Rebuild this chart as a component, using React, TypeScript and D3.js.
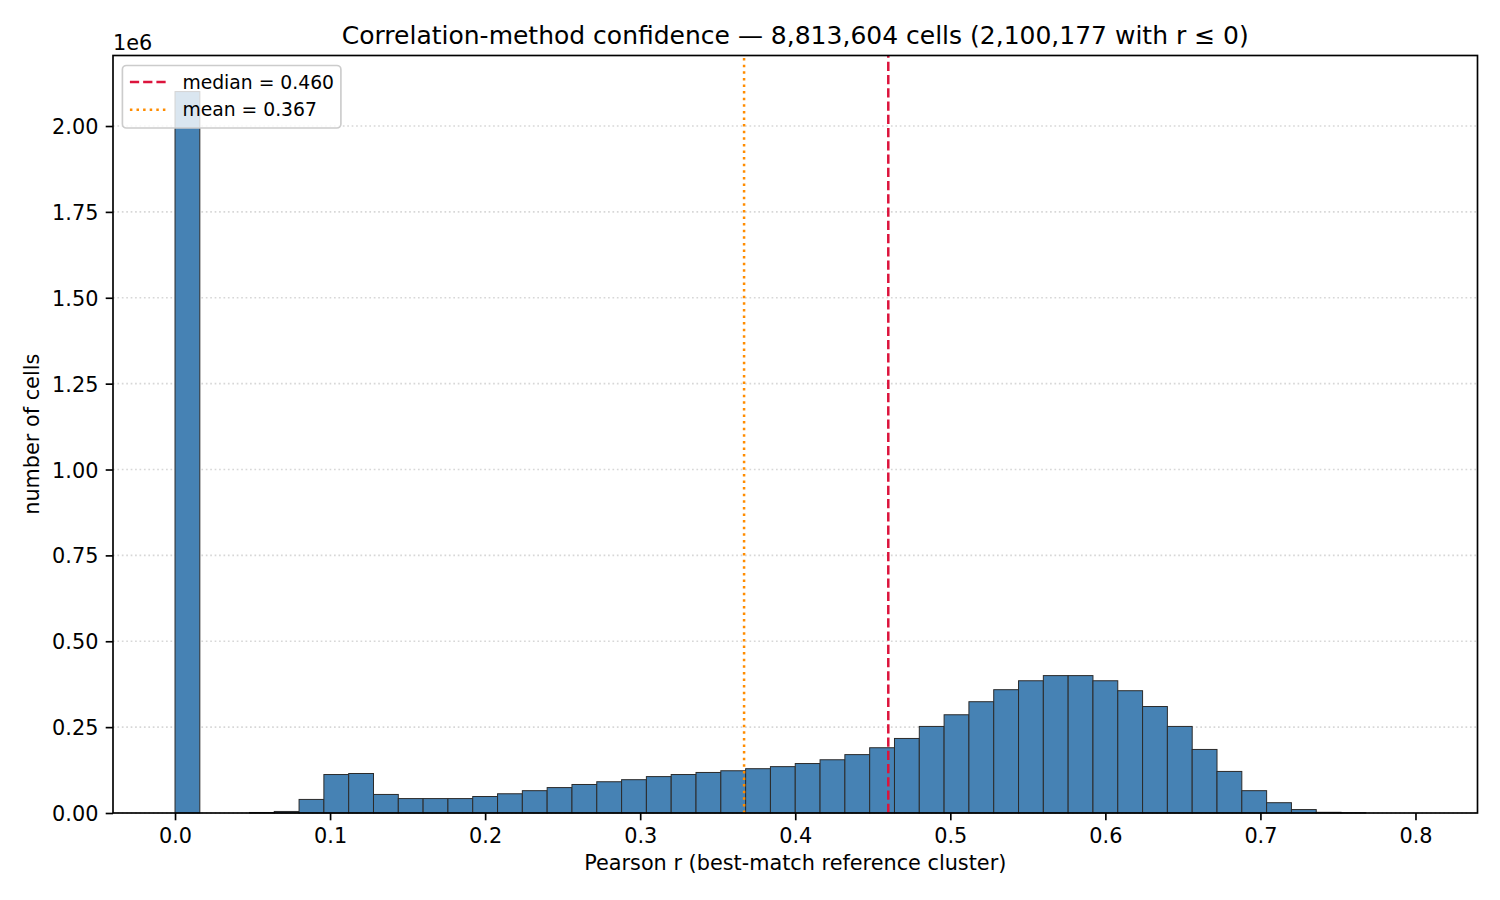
import { useRef, useEffect } from "react";
import * as d3 from "d3";

// histogram counts, 50 bins of width 0.016 starting at r = 0
const BIN_START = 0;
const BIN_WIDTH = 0.016;
const counts = [
  2100300, 0, 0, 1500, 4500, 39500, 112000, 115000, 54000, 42000,
  42000, 42000, 48000, 56000, 65000, 74000, 83000, 91000, 97000, 106000,
  112000, 118000, 123000, 129000, 135000, 144000, 155000, 170000, 190000, 217000,
  252000, 286000, 324000, 359000, 385000, 400000, 400000, 385000, 356000, 310000,
  252000, 185000, 121000, 65000, 30000, 10000, 2000, 800, 0, 0,
];

const MEDIAN = 0.46;
const MEAN = 0.367;

const xTicks = [0, 0.1, 0.2, 0.3, 0.4, 0.5, 0.6, 0.7, 0.8];
const yTicks = [0, 0.25e6, 0.5e6, 0.75e6, 1e6, 1.25e6, 1.5e6, 1.75e6, 2e6];

const TITLE = "Correlation-method confidence \u2014 8,813,604 cells (2,100,177 with r \u2264 0)";
const X_LABEL = "Pearson r (best-match reference cluster)";
const Y_LABEL = "number of cells";

const legendItems = [
  { label: "median = 0.460", color: "#dc143c", dash: "9.25,4" },
  { label: "mean = 0.367", color: "#ff8c00", dash: "2.5,4.1" },
];

const WIDTH = 1500;
const HEIGHT = 900;
const FONT = "'DejaVu Sans', sans-serif";

export default function App() {
  const svgRef = useRef<SVGSVGElement>(null);

  useEffect(() => {
    if (!svgRef.current) return;
    const svg = d3.select(svgRef.current);
    svg.selectAll("*").remove();

    const margin = { top: 55.5, right: 22.5, bottom: 87, left: 113 };
    const innerW = WIDTH - margin.left - margin.right;
    const innerH = HEIGHT - margin.top - margin.bottom;

    const bins = counts.map((c, i) => ({
      x0: BIN_START + i * BIN_WIDTH,
      x1: BIN_START + (i + 1) * BIN_WIDTH,
      count: c,
    }));

    const xMin = BIN_START;
    const xMax = BIN_START + counts.length * BIN_WIDTH;
    const pad = (xMax - xMin) * 0.05;
    const x = d3.scaleLinear().domain([xMin - pad, xMax + pad]).range([0, innerW]);
    const yMax = (d3.max(counts) as number) * 1.05;
    const y = d3.scaleLinear().domain([0, yMax]).range([innerH, 0]);

    svg.append("rect").attr("width", WIDTH).attr("height", HEIGHT).attr("fill", "#fff");

    const g = svg.append("g").attr("transform", `translate(${margin.left},${margin.top})`);

    // grid (behind bars)
    g.append("g")
      .selectAll("line")
      .data(yTicks)
      .join("line")
      .attr("x1", 0)
      .attr("x2", innerW)
      .attr("y1", (d) => y(d))
      .attr("y2", (d) => y(d))
      .attr("stroke", "#b0b0b0")
      .attr("stroke-opacity", 0.5)
      .attr("stroke-width", 1.67)
      .attr("stroke-dasharray", "1.67,2.75");

    // bars
    g.append("g")
      .selectAll("rect")
      .data(bins.filter((b) => b.count > 0))
      .join("rect")
      .attr("x", (d) => x(d.x0))
      .attr("y", (d) => y(d.count))
      .attr("width", (d) => x(d.x1) - x(d.x0))
      .attr("height", (d) => innerH - y(d.count))
      .attr("fill", "#4682b4")
      .attr("stroke", "#2b2b2b")
      .attr("stroke-width", 1);

    // median / mean lines
    const vlines = [
      { v: MEDIAN, ...legendItems[0] },
      { v: MEAN, ...legendItems[1] },
    ];
    g.append("g")
      .selectAll("line")
      .data(vlines)
      .join("line")
      .attr("x1", (d) => x(d.v))
      .attr("x2", (d) => x(d.v))
      .attr("y1", innerH)
      .attr("y2", 0)
      .attr("stroke", (d) => d.color)
      .attr("stroke-width", 2.5)
      .attr("stroke-dasharray", (d) => d.dash);

    // x axis
    const xAxis = g
      .append("g")
      .attr("transform", `translate(0,${innerH})`)
      .call(
        d3
          .axisBottom(x)
          .tickValues(xTicks)
          .tickSize(7.3)
          .tickPadding(7.3)
          .tickFormat((d) => d3.format(".1f")(Number(d)))
      );
    xAxis.select(".domain").remove();
    xAxis.selectAll(".tick line").attr("stroke", "#000").attr("stroke-width", 1.67);
    xAxis
      .selectAll(".tick text")
      .attr("fill", "#000")
      .attr("font-size", 20.8)
      .attr("font-family", FONT)
      .attr("dy", "0.72em");

    // y axis
    const yAxis = g
      .append("g")
      .call(
        d3
          .axisLeft(y)
          .tickValues(yTicks)
          .tickSize(7.3)
          .tickPadding(7.3)
          .tickFormat((d) => d3.format(".2f")(Number(d) / 1e6))
      );
    yAxis.select(".domain").remove();
    yAxis.selectAll(".tick line").attr("stroke", "#000").attr("stroke-width", 1.67);
    yAxis
      .selectAll(".tick text")
      .attr("fill", "#000")
      .attr("font-size", 20.8)
      .attr("font-family", FONT)
      .attr("dy", "0.36em");

    // spines
    g.append("rect")
      .attr("width", innerW)
      .attr("height", innerH)
      .attr("fill", "none")
      .attr("stroke", "#000")
      .attr("stroke-width", 1.67);

    // offset text
    g.append("text")
      .attr("x", 0)
      .attr("y", -5.5)
      .attr("font-size", 20.8)
      .attr("font-family", FONT)
      .attr("fill", "#000")
      .text("1e6");

    // title
    g.append("text")
      .attr("x", innerW / 2)
      .attr("y", -12)
      .attr("text-anchor", "middle")
      .attr("font-size", 25)
      .attr("font-family", FONT)
      .attr("fill", "#000")
      .text(TITLE);

    // axis labels
    g.append("text")
      .attr("x", innerW / 2)
      .attr("y", innerH + 56.5)
      .attr("text-anchor", "middle")
      .attr("font-size", 20.8)
      .attr("font-family", FONT)
      .attr("fill", "#000")
      .text(X_LABEL);

    g.append("text")
      .attr("transform", `translate(${38.5 - margin.left},${innerH / 2}) rotate(-90)`)
      .attr("text-anchor", "middle")
      .attr("font-size", 20.8)
      .attr("font-family", FONT)
      .attr("fill", "#000")
      .text(Y_LABEL);

    // legend
    const lg = g.append("g").attr("transform", "translate(9.4,10)");
    lg.append("rect")
      .attr("width", 218.5)
      .attr("height", 62.5)
      .attr("rx", 4)
      .attr("fill", "#fff")
      .attr("fill-opacity", 0.8)
      .attr("stroke", "#cccccc")
      .attr("stroke-width", 1.67);
    legendItems.forEach((item, i) => {
      const cy = 16.5 + i * 27.7;
      lg.append("line")
        .attr("x1", 7.5)
        .attr("x2", 45)
        .attr("y1", cy)
        .attr("y2", cy)
        .attr("stroke", item.color)
        .attr("stroke-width", 2.5)
        .attr("stroke-dasharray", item.dash);
      lg.append("text")
        .attr("x", 60)
        .attr("y", cy)
        .attr("dy", "0.36em")
        .attr("font-size", 18.75)
        .attr("font-family", FONT)
        .attr("fill", "#000")
        .text(item.label);
    });
  }, []);

  return (
    <svg
      ref={svgRef}
      width={WIDTH}
      height={HEIGHT}
      style={{ display: "block", position: "absolute", left: 0, top: 0 }}
    />
  );
}
